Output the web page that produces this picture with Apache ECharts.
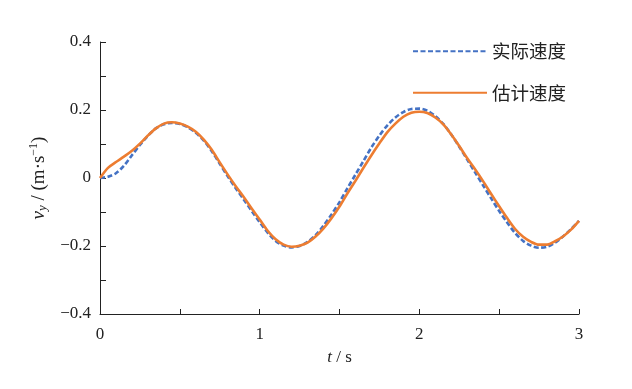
<!DOCTYPE html>
<html><head><meta charset="utf-8">
<script src="https://cdn.jsdelivr.net/npm/echarts@6/dist/echarts.min.js"></script>
<style>html,body{margin:0;padding:0;background:#fff}#c{width:632px;height:389px}</style>
</head><body><div id="c"></div>
<script>
const times = [0,0.05,0.1,0.15,0.2,0.25,0.3,0.35,0.4,0.45,0.5,0.55,0.6,0.65,0.7,0.75,0.8,0.85,0.9,0.95,1,1.05,1.1,1.15,1.2,1.25,1.3,1.35,1.4,1.45,1.5,1.55,1.6,1.65,1.7,1.75,1.8,1.85,1.9,1.95,2,2.05,2.1,2.15,2.2,2.25,2.3,2.35,2.4,2.45,2.5,2.55,2.6,2.65,2.7,2.75,2.8,2.85,2.9,2.95,3];
const actualVel = [0,0.004,0.014,0.036,0.067,0.097,0.124,0.146,0.158,0.162,0.159,0.149,0.133,0.110,0.079,0.042,0.005,-0.030,-0.063,-0.097,-0.130,-0.161,-0.185,-0.199,-0.204,-0.200,-0.188,-0.168,-0.140,-0.107,-0.071,-0.030,0.010,0.050,0.090,0.125,0.155,0.178,0.194,0.203,0.204,0.198,0.182,0.159,0.128,0.092,0.054,0.016,-0.022,-0.060,-0.097,-0.131,-0.162,-0.185,-0.199,-0.205,-0.202,-0.190,-0.172,-0.150,-0.126];
const estVel = [0,0.030,0.047,0.063,0.080,0.101,0.125,0.146,0.160,0.164,0.160,0.151,0.136,0.113,0.083,0.046,0.010,-0.024,-0.056,-0.090,-0.122,-0.155,-0.180,-0.196,-0.202,-0.199,-0.190,-0.172,-0.148,-0.118,-0.084,-0.045,-0.008,0.030,0.067,0.102,0.135,0.160,0.180,0.192,0.195,0.191,0.178,0.158,0.128,0.094,0.058,0.025,-0.010,-0.047,-0.083,-0.118,-0.150,-0.173,-0.188,-0.196,-0.196,-0.186,-0.172,-0.152,-0.126];
const seriesNames = ['实际速度','估计速度'];
const yTickLabels = {'0.4':'0.4','0.2':'0.2','0':'0','-0.2':'\u22120.2','-0.4':'\u22120.4'};
const xTickLabels = {'0':'0','1':'1','2':'2','3':'3'};

const serif = '"Liberation Serif"';
const chart = echarts.init(document.getElementById('c'));
const pair = a => times.map((t,i)=>[t,a[i]]);
const lbl = {fontFamily:serif,fontSize:17,color:'#222'};
chart.setOption({
  animation:false,
  textStyle:{fontFamily:serif,fontSize:17,color:'#222'},
  grid:{left:100,right:53,top:42,bottom:75,containLabel:false},
  legend:{
    orient:'vertical', left:412, top:42, padding:0, itemGap:23, itemWidth:74, itemHeight:14,
    itemStyle:{opacity:0},
    textStyle:{fontFamily:'"Noto Sans CJK SC"',fontSize:18.5,color:'#222'},
    data:seriesNames
  },
  xAxis:{
    type:'value',min:0,max:3,interval:0.5,
    axisLine:{onZero:false,lineStyle:{color:'#222',width:1}},
    axisTick:{inside:true,length:5,lineStyle:{color:'#222'}},
    splitLine:{show:false},
    axisLabel:{margin:12,fontFamily:serif,fontSize:17,color:'#222',
      formatter:v=>{const k=String(Math.round(v*10)/10);return xTickLabels[k]!==undefined?'{n|'+xTickLabels[k]+'}':'';},
      rich:{n:lbl}},
    name:'{i|t} / s',nameLocation:'middle',nameGap:35,
    nameTextStyle:{fontFamily:serif,fontSize:17,color:'#222',rich:{i:{fontFamily:serif,fontSize:17,fontStyle:'italic',color:'#222'}}}
  },
  yAxis:{
    type:'value',min:-0.4,max:0.4,interval:0.1,
    axisLine:{show:true,onZero:false,lineStyle:{color:'#222',width:1}},
    axisTick:{show:true,inside:true,length:6,lineStyle:{color:'#222'}},
    splitLine:{show:false},
    axisLabel:{margin:9,fontFamily:serif,fontSize:17,color:'#222',
      formatter:v=>{const k=String(Math.round(v*10)/10);return yTickLabels[k]!==undefined?'{n|'+yTickLabels[k]+'}':'';},
      rich:{n:lbl}},
    name:'{i|v}{s|y} / (m·s{p|\u22121})',nameLocation:'middle',nameGap:41,nameRotate:90,
    nameTextStyle:{fontFamily:serif,fontSize:19,color:'#222',
      rich:{i:{fontFamily:serif,fontSize:19,fontStyle:'italic',color:'#222'},
            s:{fontFamily:serif,fontSize:13,fontStyle:'italic',color:'#222',verticalAlign:'bottom',padding:[8,0,0,0]},
            p:{fontFamily:serif,fontSize:12,color:'#222',verticalAlign:'top',padding:[0,0,8,0]}}}
  },
  series:[
    {name:seriesNames[0],type:'line',data:pair(actualVel),smooth:0.3,showSymbol:false,symbol:'none',z:2,
     lineStyle:{color:'#4472C4',width:2.6,type:[5,2.5]},itemStyle:{color:'#4472C4'}},
    {name:seriesNames[1],type:'line',data:pair(estVel),smooth:0.3,showSymbol:false,symbol:'none',z:3,
     lineStyle:{color:'#ED7D31',width:2.6},itemStyle:{color:'#ED7D31'}}
  ]
});
</script></body></html>
